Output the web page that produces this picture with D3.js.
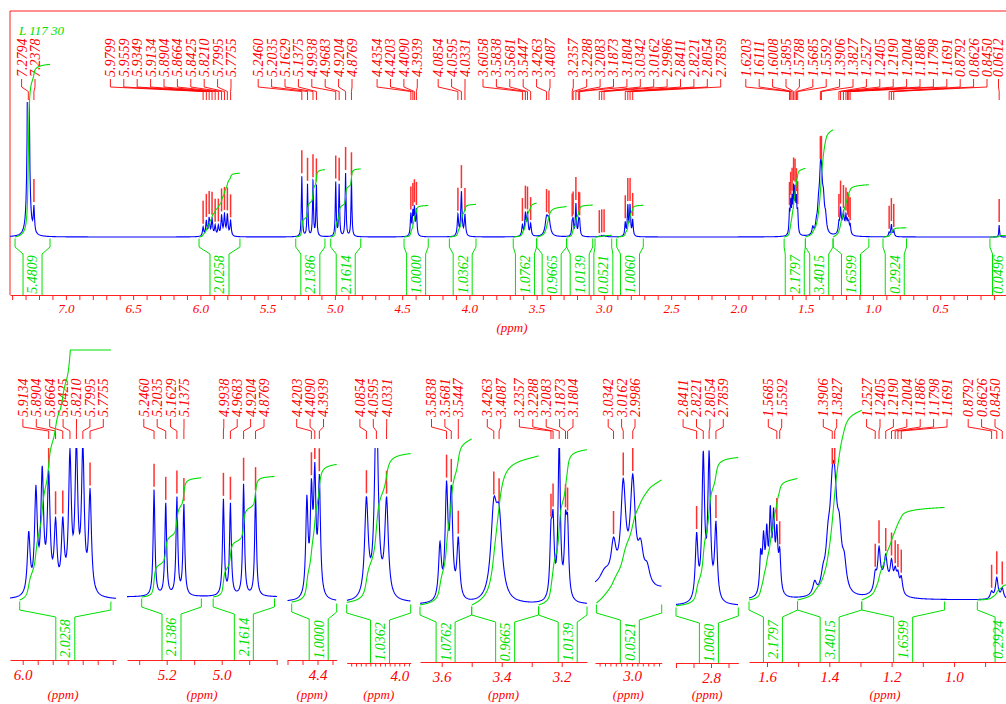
<!DOCTYPE html>
<html>
<head>
<meta charset="utf-8">
<script src="https://cdn.jsdelivr.net/npm/d3@7"></script>
<style>
  html, body { margin: 0; padding: 0; background: #ffffff; }
  svg { display: block; }
  text { font-family: "Liberation Serif", "Times New Roman", serif; font-style: italic; }
</style>
</head>
<body>
<svg id="chart" width="1006" height="704"></svg>
<script>
// ---------------- data ----------------
const sampleName = "L 117 30";

// assigned lines: chemical shift (ppm), line intensity, half-width at half-height (ppm)
const peakShifts = [
  7.2794, 7.2378,
  5.9799, 5.9559, 5.9349, 5.9134, 5.8904, 5.8664, 5.8425, 5.8210, 5.7995, 5.7755,
  5.2460, 5.2035, 5.1629, 5.1375, 4.9938, 4.9683, 4.9204, 4.8769,
  4.4354, 4.4203, 4.4090, 4.3939,
  4.0854, 4.0595, 4.0331,
  3.6058, 3.5838, 3.5681, 3.5447, 3.4263, 3.4087,
  3.2357, 3.2288, 3.2083, 3.1873, 3.1804, 3.0342, 3.0162, 2.9986, 2.8411, 2.8221, 2.8054, 2.7859,
  1.6203, 1.6111, 1.6008, 1.5895, 1.5788, 1.5685, 1.5592, 1.3906, 1.3827,
  1.2527, 1.2405, 1.2190, 1.2004, 1.1886, 1.1798, 1.1691, 0.8792, 0.8626, 0.8450,
  0.0612
];
const peakHeights = [
  400, 25,
  9, 15, 17.5, 17, 10, 10, 20, 21, 21, 15,
  60, 52, 55, 51, 54, 51.5, 63, 58,
  21.5, 22, 26, 26,
  21, 44, 21,
  11, 22, 21, 12, 17, 15,
  12, 14, 32, 13.5, 13.5, 0.5, 1.3, 1.35, 13.5, 30, 30, 16,
  21.5, 29, 31.5, 42, 40, 31.5, 21.5, 40, 40,
  9, 21, 12, 14, 10, 9, 9, 4, 12, 6,
  12
];
const peakWidths = [
  0.0055, 0.005,
  0.0055, 0.0055, 0.0055, 0.0055, 0.0055, 0.0055, 0.0055, 0.0055, 0.0055, 0.0055,
  0.0038, 0.0038, 0.0038, 0.0038, 0.0038, 0.0038, 0.0038, 0.0038,
  0.0045, 0.0045, 0.0045, 0.0045,
  0.0055, 0.0055, 0.0055,
  0.0055, 0.0055, 0.0055, 0.0055, 0.012, 0.012,
  0.0045, 0.0045, 0.0045, 0.0045, 0.0045, 0.0055, 0.0055, 0.0055, 0.0045, 0.0045, 0.0045, 0.0045,
  0.004, 0.004, 0.004, 0.004, 0.004, 0.004, 0.004, 0.009, 0.009,
  0.005, 0.005, 0.005, 0.005, 0.005, 0.005, 0.005, 0.005, 0.005, 0.005,
  0.003
];

// unlabelled components (shoulders, broad envelope)
const extraShifts  = [1.447, 1.420, 1.404, 1.368, 1.352, 1.222, 3.050, 2.984, 2.972];
const extraHeights = [7, 8, 22, 28, 14, 11, 0.2, 0.45, 0.22];
const extraWidths  = [0.007, 0.008, 0.009, 0.009, 0.008, 0.022, 0.012, 0.006, 0.006];

// integral regions (ppm) and their values
const integralFrom   = [7.378, 6.010, 5.291, 5.031, 4.486, 4.149, 3.674, 3.500, 3.277, 3.066, 2.905, 1.660, 1.502, 1.296, 0.925, 0.130];
const integralTo     = [7.118, 5.706, 5.074, 4.808, 4.306, 3.951, 3.500, 3.277, 3.083, 2.942, 2.707, 1.502, 1.296, 1.030, 0.750, -0.050];
const integralValues = [5.4809, 2.0258, 2.1386, 2.1614, 1.0000, 1.0362, 1.0762, 0.9665, 1.0139, 0.0521, 1.0060, 2.1797, 3.4015, 1.6599, 0.2924, 0.0496];

// axis labels
const fullTickLabels = [7.0, 6.5, 6.0, 5.5, 5.0, 4.5, 4.0, 3.5, 3.0, 2.5, 2.0, 1.5, 1.0, 0.5];
const zoomTickLabels = [[6.0], [5.2, 5.0], [4.4], [4.0], [3.6, 3.4, 3.2], [3.0], [2.8], [1.6, 1.4, 1.2, 1.0]];

// lines annotated in each expansion
const zoomPeakLabels = [
  [5.9134, 5.8904, 5.8664, 5.8425, 5.8210, 5.7995, 5.7755],
  [5.2460, 5.2035, 5.1629, 5.1375, 4.9938, 4.9683, 4.9204, 4.8769],
  [4.4203, 4.4090, 4.3939],
  [4.0854, 4.0595, 4.0331],
  [3.5838, 3.5681, 3.5447, 3.4263, 3.4087, 3.2357, 3.2288, 3.2083, 3.1873, 3.1804],
  [3.0342, 3.0162, 2.9986],
  [2.8411, 2.8221, 2.8054, 2.7859],
  [1.5685, 1.5592, 1.3906, 1.3827, 1.2527, 1.2405, 1.2190, 1.2004, 1.1886, 1.1798, 1.1691, 0.8792, 0.8626, 0.8450]
];

// ---------------- layout ----------------
const RED = "#ff0000", LINE_RED = "#ff2020", BLUE = "#0000ff", GREEN = "#00e000";
const INTEGRAL_UNIT = 31.5;      // intensity units per unit of integral
const LABEL_STEP = 13.4;         // spacing between stacked shift labels
const TEXT_MAX_X = 998;          // keep rotated integral values inside the page

const fullLabelGeom = { bottom: 77, stub: 87, bend: 91.5, end: 100 };
const zoomLabelGeom = { bottom: 417, stub: 427, bend: 431, end: 439 };

const panels = [
  { refPpm: 7.0, refX: 65.9, k: 134.5, xL: 10, xR: 1008, base: 237, axisY: 295, gain: 1, clipTop: 102, intTop: 40,
    tickStep: 0.1, tickLen: 5, tickFont: 13, tickLabels: fullTickLabels, unitX: 512, unitY: 332,
    labels: peakShifts, runs: [[2, 35], [10, 231], [8, 352], [4, 417.3], [3, 465], [6, 550], [12, 720.7], [19, 987], [1, 998.5]],
    geom: fullLabelGeom },
  { refPpm: 6.0, refX: 22.7, k: 300, xL: 10, xR: 116, base: 600, axisY: 660, gain: 6.7, tickStep: 0.05, tickLen: 5,
    tickLabels: zoomTickLabels[0], labels: zoomPeakLabels[0], runs: [[7, 103.3]] },
  { refPpm: 5.2, refX: 166.7, k: 275, xL: 127, xR: 277, base: 597, axisY: 660, gain: 1.77, tickStep: 0.1, tickLen: 5,
    tickLabels: zoomTickLabels[1], labels: zoomPeakLabels[1], runs: [[4, 184], [4, 264]] },
  { refPpm: 4.4, refX: 317.5, k: 300, xL: 287.3, xR: 336.7, base: 602, axisY: 660, gain: 4.4, tickStep: 0.05, tickLen: 5,
    tickLabels: zoomTickLabels[2], labels: zoomPeakLabels[2], runs: [[3, 323.5]] },
  { refPpm: 4.0, refX: 399.3, k: 385, xL: 346.7, xR: 410.7, base: 603, axisY: 663, gain: 4.6, tickStep: 0.0125, tickLen: 3.5,
    tickLabels: zoomTickLabels[3], labels: zoomPeakLabels[3], runs: [[3, 386.7]] },
  { refPpm: 3.6, refX: 441.7, k: 300, xL: 420, xR: 587, base: 605, axisY: 662, gain: 4.9, tickStep: 0.1, tickLen: 5,
    tickLabels: zoomTickLabels[4], labels: zoomPeakLabels[4], runs: [[3, 458.3], [2, 500.7], [5, 573]] },
  { refPpm: 3.0, refX: 632, k: 540, xL: 595, xR: 661.7, base: 603, axisY: 663, gain: 75.6, tickStep: 0.01, tickLen: 3.5,
    tickLabels: zoomTickLabels[5], labels: zoomPeakLabels[5], runs: [[3, 635]] },
  { refPpm: 2.8, refX: 711, k: 350, xL: 676, xR: 738.3, base: 606, axisY: 663, gain: 4.7, tickStep: 0.05, tickLen: 5,
    tickLabels: zoomTickLabels[6], labels: zoomPeakLabels[6], runs: [[4, 723.3]] },
  { refPpm: 1.6, refX: 767, k: 311.6, xL: 749, xR: 1008, base: 600, axisY: 662, gain: 1.77, tickStep: 0.1, tickLen: 5,
    tickLabels: zoomTickLabels[7], labels: zoomPeakLabels[7], runs: [[2, 781.7], [2, 836.7], [7, 947], [3, 995]], unitX: 885 }
];
panels.forEach((P, i) => {
  if (i > 0) {
    P.clipTop = 448; P.intTop = 350; P.tickFont = 15; P.unitY = 699;
    P.geom = zoomLabelGeom;
    if (P.unitX === undefined) P.unitX = (P.xL + P.xR) / 2;
  }
});

// ---------------- spectrum model ----------------
const lines = peakShifts.map((c, i) => ({ c, h: peakHeights[i], w: peakWidths[i] }))
  .concat(extraShifts.map((c, i) => ({ c, h: extraHeights[i], w: extraWidths[i] })));

function intensity(p) {
  let s = 0;
  for (const l of lines) {
    const d = p - l.c, w2 = l.w * l.w;
    s += l.h * w2 / (d * d + w2);
  }
  return s;
}

function runPositions(runs) {
  const out = [];
  runs.forEach(([n, end]) => { for (let i = 0; i < n; i++) out.push(end - (n - 1 - i) * LABEL_STEP); });
  return out;
}

// ---------------- drawing ----------------
const svg = d3.select("#chart");
const defs = svg.append("defs");

// frame of the full spectrum
svg.append("path")
  .attr("d", "M10,295V11H1012")
  .attr("fill", "none").attr("stroke", LINE_RED).attr("stroke-width", 1);

svg.append("text")
  .attr("x", 19).attr("y", 35)
  .attr("fill", GREEN).style("font-size", "13px")
  .text(sampleName);

const fmt1 = d3.format(".1f");

panels.forEach((P, pi) => {
  const ppmL = P.refPpm + (P.refX - P.xL) / P.k;
  const ppmR = P.refPpm - (P.xR - P.refX) / P.k;
  const x = d3.scaleLinear().domain([ppmL, ppmR]).range([P.xL, P.xR]);
  const y = d3.scaleLinear().domain([0, 100]).range([P.base, P.base - 100 * P.gain]);
  const g = svg.append("g");

  const clipId = "clip-" + pi;
  defs.append("clipPath").attr("id", clipId).append("rect")
    .attr("x", P.xL).attr("y", P.clipTop).attr("width", P.xR - P.xL).attr("height", P.axisY - P.clipTop);

  // ppm axis
  const ticks = [];
  const i0 = Math.ceil(ppmR / P.tickStep - 1e-9), i1 = Math.floor(ppmL / P.tickStep + 1e-9);
  for (let i = i0; i <= i1; i++) ticks.push(+(i * P.tickStep).toFixed(4));
  const axis = d3.axisBottom(x).tickValues(ticks).tickSize(P.tickLen).tickSizeOuter(0).tickPadding(4)
    .tickFormat(v => P.tickLabels.some(t => Math.abs(t - v) < 1e-6) ? fmt1(v) : "");
  const ag = g.append("g").attr("transform", `translate(0,${P.axisY})`).call(axis);
  ag.attr("font-family", null).attr("font-size", null);
  ag.select(".domain").attr("stroke", LINE_RED);
  ag.selectAll(".tick line").attr("stroke", LINE_RED);
  ag.selectAll(".tick text").attr("fill", RED).style("font-size", P.tickFont + "px");

  g.append("text")
    .attr("x", P.unitX).attr("y", P.unitY).attr("text-anchor", "middle")
    .attr("fill", RED).style("font-size", "13px")
    .text("(ppm)");

  // spectrum trace
  const samples = d3.range(P.xL, P.xR + 0.001, 0.5).map(px => x.invert(px));
  lines.forEach(l => { if (l.c <= ppmL && l.c >= ppmR) samples.push(l.c); });
  samples.sort((a, b) => b - a);
  g.append("path")
    .attr("clip-path", `url(#${clipId})`)
    .attr("d", d3.line().x(p => x(p)).y(p => y(intensity(p)))(samples))
    .attr("fill", "none").attr("stroke", BLUE).attr("stroke-width", 1.1);

  // peak markers, labels and leader lines
  const lx = runPositions(P.runs);
  const G = P.geom;
  P.labels.forEach((s, i) => {
    const px = x(s);
    const top = y(intensity(s));
    g.append("line")
      .attr("clip-path", `url(#${clipId})`)
      .attr("x1", px).attr("x2", px).attr("y1", top - 26).attr("y2", top - 3)
      .attr("stroke", "#ff3030").attr("stroke-width", 1.5);
    g.append("path")
      .attr("d", `M${lx[i]},${G.bottom + 2}V${G.stub}L${px},${G.bend}V${G.end}`)
      .attr("fill", "none").attr("stroke", RED).attr("stroke-width", 0.9);
    g.append("text")
      .attr("transform", `translate(${lx[i]},${G.bottom}) rotate(-90)`)
      .attr("dy", "0.35em")
      .attr("fill", RED).style("font-size", "14px")
      .text(s.toFixed(4));
  });

  // integrals
  integralFrom.forEach((a, k) => {
    const b = integralTo[k], val = integralValues[k];
    if (b > ppmL || a < ppmR) return;
    const N = 600;
    let cum = 0, prev = intensity(a);
    const arr = [{ p: a, c: 0 }];
    for (let i = 1; i <= N; i++) {
      const p = a - (a - b) * i / N;
      const s = intensity(p);
      cum += (prev + s) / 2; prev = s;
      arr.push({ p, c: cum });
    }
    const total = cum;
    const vis = arr.filter(d => d.p <= ppmL && d.p >= ppmR);
    g.append("path")
      .attr("d", d3.line().x(d => x(d.p)).y(d => Math.max(P.intTop, y(d.c / total * val * INTEGRAL_UNIT)))(vis))
      .attr("fill", "none").attr("stroke", GREEN).attr("stroke-width", 1.1);

    const xa = x(a), xb = x(b);
    const xo1 = Math.max(P.xL, xa), xo2 = Math.min(P.xR, xb), cx = (xa + xb) / 2;
    const t = P.base + 1.5, m = P.base + 10, n = P.base + 17;
    g.append("path")
      .attr("d", `M${xo1},${t}V${m}L${cx - 9.5},${n}V${P.axisY}M${xo2},${t}V${m}L${cx + 9.5},${n}V${P.axisY}`)
      .attr("fill", "none").attr("stroke", GREEN).attr("stroke-width", 1);
    g.append("text")
      .attr("transform", `translate(${Math.min(cx, TEXT_MAX_X)},${(n + P.axisY) / 2}) rotate(-90)`)
      .attr("text-anchor", "middle").attr("dy", "0.35em")
      .attr("fill", GREEN).style("font-size", "14px")
      .text(val.toFixed(4));
  });
});
</script>
</body>
</html>
